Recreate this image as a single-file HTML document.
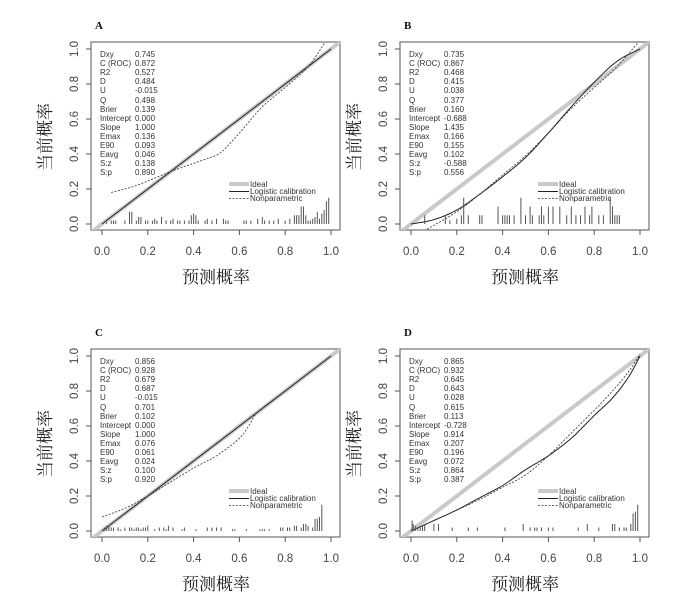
<!DOCTYPE html>
<html><head><meta charset="utf-8"><style>
html,body{margin:0;padding:0;background:#fff;width:698px;height:598px;overflow:hidden}
text{font-family:"Liberation Sans",Arial,sans-serif}
.st{font-size:8px;fill:#333}
.tk{font-size:11.5px;fill:#444}
.cj{font-family:"Noto Serif CJK SC","Noto Sans CJK SC",serif;font-size:17px;fill:#222}
.tt{font-family:"Liberation Serif",serif;font-weight:bold;font-size:11px;fill:#111}
</style></head><body>
<svg id="s" width="698" height="598" xmlns="http://www.w3.org/2000/svg">
<g id="pA" transform="translate(0,0)">
<text class="tt" x="95" y="29">A</text>
<text class="st" x="100" y="57">Dxy</text><text class="st" x="135" y="57">0.745</text>
<text class="st" x="100" y="66">C (ROC)</text><text class="st" x="135" y="66">0.872</text>
<text class="st" x="100" y="75">R2</text><text class="st" x="135" y="75">0.527</text>
<text class="st" x="100" y="84">D</text><text class="st" x="135" y="84">0.484</text>
<text class="st" x="100" y="93">U</text><text class="st" x="135" y="93">-0.015</text>
<text class="st" x="100" y="103">Q</text><text class="st" x="135" y="103">0.498</text>
<text class="st" x="100" y="112">Brier</text><text class="st" x="135" y="112">0.139</text>
<text class="st" x="100" y="121">Intercept</text><text class="st" x="135" y="121">0.000</text>
<text class="st" x="100" y="130">Slope</text><text class="st" x="135" y="130">1.000</text>
<text class="st" x="100" y="139">Emax</text><text class="st" x="135" y="139">0.136</text>
<text class="st" x="100" y="148">E90</text><text class="st" x="135" y="148">0.093</text>
<text class="st" x="100" y="157">Eavg</text><text class="st" x="135" y="157">0.046</text>
<text class="st" x="100" y="166">S:z</text><text class="st" x="135" y="166">0.138</text>
<text class="st" x="100" y="175">S:p</text><text class="st" x="135" y="175">0.890</text>
</g>
<g id="pB" transform="translate(309,0)">
<text class="tt" x="95" y="29">B</text>
<text class="st" x="100" y="57">Dxy</text><text class="st" x="135" y="57">0.735</text>
<text class="st" x="100" y="66">C (ROC)</text><text class="st" x="135" y="66">0.867</text>
<text class="st" x="100" y="75">R2</text><text class="st" x="135" y="75">0.468</text>
<text class="st" x="100" y="84">D</text><text class="st" x="135" y="84">0.415</text>
<text class="st" x="100" y="93">U</text><text class="st" x="135" y="93">0.038</text>
<text class="st" x="100" y="103">Q</text><text class="st" x="135" y="103">0.377</text>
<text class="st" x="100" y="112">Brier</text><text class="st" x="135" y="112">0.160</text>
<text class="st" x="100" y="121">Intercept</text><text class="st" x="135" y="121">-0.688</text>
<text class="st" x="100" y="130">Slope</text><text class="st" x="135" y="130">1.435</text>
<text class="st" x="100" y="139">Emax</text><text class="st" x="135" y="139">0.166</text>
<text class="st" x="100" y="148">E90</text><text class="st" x="135" y="148">0.155</text>
<text class="st" x="100" y="157">Eavg</text><text class="st" x="135" y="157">0.102</text>
<text class="st" x="100" y="166">S:z</text><text class="st" x="135" y="166">-0.588</text>
<text class="st" x="100" y="175">S:p</text><text class="st" x="135" y="175">0.556</text>
</g>
<g id="pC" transform="translate(0,307)">
<text class="tt" x="95" y="29">C</text>
<text class="st" x="100" y="57">Dxy</text><text class="st" x="135" y="57">0.856</text>
<text class="st" x="100" y="66">C (ROC)</text><text class="st" x="135" y="66">0.928</text>
<text class="st" x="100" y="75">R2</text><text class="st" x="135" y="75">0.679</text>
<text class="st" x="100" y="84">D</text><text class="st" x="135" y="84">0.687</text>
<text class="st" x="100" y="93">U</text><text class="st" x="135" y="93">-0.015</text>
<text class="st" x="100" y="103">Q</text><text class="st" x="135" y="103">0.701</text>
<text class="st" x="100" y="112">Brier</text><text class="st" x="135" y="112">0.102</text>
<text class="st" x="100" y="121">Intercept</text><text class="st" x="135" y="121">0.000</text>
<text class="st" x="100" y="130">Slope</text><text class="st" x="135" y="130">1.000</text>
<text class="st" x="100" y="139">Emax</text><text class="st" x="135" y="139">0.076</text>
<text class="st" x="100" y="148">E90</text><text class="st" x="135" y="148">0.061</text>
<text class="st" x="100" y="157">Eavg</text><text class="st" x="135" y="157">0.024</text>
<text class="st" x="100" y="166">S:z</text><text class="st" x="135" y="166">0.100</text>
<text class="st" x="100" y="175">S:p</text><text class="st" x="135" y="175">0.920</text>
</g>
<g id="pD" transform="translate(309,307)">
<text class="tt" x="95" y="29">D</text>
<text class="st" x="100" y="57">Dxy</text><text class="st" x="135" y="57">0.865</text>
<text class="st" x="100" y="66">C (ROC)</text><text class="st" x="135" y="66">0.932</text>
<text class="st" x="100" y="75">R2</text><text class="st" x="135" y="75">0.645</text>
<text class="st" x="100" y="84">D</text><text class="st" x="135" y="84">0.643</text>
<text class="st" x="100" y="93">U</text><text class="st" x="135" y="93">0.028</text>
<text class="st" x="100" y="103">Q</text><text class="st" x="135" y="103">0.615</text>
<text class="st" x="100" y="112">Brier</text><text class="st" x="135" y="112">0.113</text>
<text class="st" x="100" y="121">Intercept</text><text class="st" x="135" y="121">-0.728</text>
<text class="st" x="100" y="130">Slope</text><text class="st" x="135" y="130">0.914</text>
<text class="st" x="100" y="139">Emax</text><text class="st" x="135" y="139">0.207</text>
<text class="st" x="100" y="148">E90</text><text class="st" x="135" y="148">0.196</text>
<text class="st" x="100" y="157">Eavg</text><text class="st" x="135" y="157">0.072</text>
<text class="st" x="100" y="166">S:z</text><text class="st" x="135" y="166">0.864</text>
<text class="st" x="100" y="175">S:p</text><text class="st" x="135" y="175">0.387</text>
</g>
</svg>
<script>
var NS="http://www.w3.org/2000/svg";
function X(v){return 102+229*v}function Y(v){return 224-175*v}
function add(g,t,a,txt){var e=document.createElementNS(NS,t);for(var k in a)e.setAttribute(k,a[k]);if(txt)e.textContent=txt;g.appendChild(e);return e}
function path(pts){var d="";for(var i=0;i<pts.length;i++){d+=(i?"L":"M")+X(pts[i][0]).toFixed(1)+" "+Y(pts[i][1]).toFixed(1)}return d}
function smooth(pts){var o=[];for(var i=0;i<pts.length-1;i++){var p0=pts[Math.max(0,i-1)],p1=pts[i],p2=pts[i+1],p3=pts[Math.min(pts.length-1,i+2)];for(var t=0;t<1;t+=0.1){var t2=t*t,t3=t2*t;var f=function(a,b,c,d){return 0.5*((2*b)+(-a+c)*t+(2*a-5*b+4*c-d)*t2+(-a+3*b-3*c+d)*t3)};o.push([f(p0[0],p1[0],p2[0],p3[0]),f(p0[1],p1[1],p2[1],p3[1])])}}o.push(pts[pts.length-1]);return o}
var cfg={
pA:{lg:[[0,0],[1,1]],np:[[0.04,0.18],[0.15,0.22],[0.3,0.3],[0.45,0.37],[0.52,0.41],[0.6,0.52],[0.7,0.67],[0.8,0.78],[0.9,0.9],[0.98,1.05]],
rug:[[0.02,.01],[0.04,.02],[0.05,.02],[0.06,.02],[0.1,.02],[0.12,.07],[0.13,.07],[0.15,.02],[0.16,.04],[0.17,.04],[0.19,.02],[0.2,.02],[0.22,.02],[0.23,.03],[0.24,.02],[0.26,.04],[0.28,.02],[0.3,.02],[0.31,.03],[0.33,.02],[0.34,.02],[0.36,.02],[0.38,.02],[0.39,.05],[0.4,.06],[0.41,.05],[0.42,.02],[0.45,.02],[0.46,.03],[0.48,.02],[0.5,.03],[0.53,.03],[0.54,.02],[0.55,.02],[0.62,.02],[0.63,.02],[0.65,.02],[0.68,.03],[0.7,.04],[0.71,.02],[0.73,.02],[0.75,.02],[0.77,.03],[0.8,.02],[0.82,.03],[0.84,.05],[0.85,.05],[0.86,.05],[0.87,.1],[0.88,.1],[0.89,.05],[0.9,.02],[0.91,.02],[0.92,.03],[0.93,.04],[0.94,.07],[0.95,.03],[0.96,.06],[0.97,.08],[0.98,.13],[0.99,.15]]},
pB:{lg:[[0,0],[0.1,0.025],[0.2,0.08],[0.3,0.17],[0.4,0.27],[0.5,0.38],[0.6,0.52],[0.7,0.67],[0.8,0.81],[0.9,0.93],[1,1.0]],np:[[0.07,-0.03],[0.2,0.07],[0.3,0.17],[0.4,0.28],[0.5,0.39],[0.6,0.52],[0.7,0.66],[0.8,0.78],[0.9,0.9],[1,1.05]],
rug:[[0.06,.05],[0.15,.05],[0.17,.02],[0.2,.03],[0.22,.05],[0.23,.15],[0.25,.05],[0.3,.05],[0.31,.05],[0.38,.1],[0.4,.05],[0.41,.05],[0.42,.05],[0.43,.05],[0.45,.05],[0.48,.15],[0.5,.05],[0.52,.1],[0.53,.05],[0.56,.05],[0.57,.1],[0.58,.05],[0.6,.1],[0.62,.1],[0.65,.1],[0.68,.05],[0.7,.1],[0.72,.05],[0.74,.05],[0.76,.1],[0.78,.05],[0.79,.1],[0.82,.05],[0.84,.05],[0.87,.15],[0.88,.1],[0.89,.05],[0.9,.05],[0.91,.05]]},
pC:{lg:[[0,0],[1,1]],np:[[0.0,0.08],[0.1,0.13],[0.2,0.2],[0.3,0.28],[0.4,0.36],[0.5,0.43],[0.6,0.53],[0.65,0.62],[0.68,0.68],[0.8,0.8],[0.9,0.9],[1,1]],
rug:[[0.01,.02],[0.02,.03],[0.03,.03],[0.04,.02],[0.05,.02],[0.07,.02],[0.08,.01],[0.1,.02],[0.12,.02],[0.13,.02],[0.14,.01],[0.15,.02],[0.16,.02],[0.17,.01],[0.18,.02],[0.19,.02],[0.2,.03],[0.23,.01],[0.25,.02],[0.27,.02],[0.28,.01],[0.29,.03],[0.31,.02],[0.35,.01],[0.36,.02],[0.41,.01],[0.46,.02],[0.48,.02],[0.5,.02],[0.52,.02],[0.57,.01],[0.58,.01],[0.63,.01],[0.69,.01],[0.7,.01],[0.71,.01],[0.73,.01],[0.78,.02],[0.79,.02],[0.81,.02],[0.82,.02],[0.84,.03],[0.85,.03],[0.87,.02],[0.88,.04],[0.89,.04],[0.9,.03],[0.92,.02],[0.93,.07],[0.94,.07],[0.95,.08],[0.96,.15]]},
pD:{lg:[[0,0],[0.1,0.06],[0.2,0.12],[0.3,0.19],[0.4,0.26],[0.5,0.35],[0.6,0.43],[0.7,0.53],[0.8,0.66],[0.88,0.76],[0.95,0.88],[1,1.0]],np:[[0,0],[0.1,0.06],[0.2,0.12],[0.3,0.18],[0.4,0.25],[0.5,0.32],[0.6,0.43],[0.7,0.56],[0.8,0.69],[0.88,0.8],[0.95,0.91],[1,1.01]],
rug:[[0.005,.06],[0.01,.04],[0.02,.03],[0.03,.02],[0.04,.02],[0.05,.03],[0.06,.04],[0.1,.04],[0.12,.04],[0.18,.02],[0.25,.02],[0.29,.02],[0.41,.02],[0.49,.04],[0.52,.02],[0.54,.02],[0.55,.02],[0.57,.02],[0.6,.02],[0.62,.02],[0.73,.02],[0.77,.04],[0.82,.02],[0.88,.04],[0.89,.04],[0.91,.02],[0.93,.02],[0.94,.02],[0.96,.04],[0.97,.1],[0.98,.11],[0.99,.15]]}};
var xt=["0.0","0.2","0.4","0.6","0.8","1.0"];
for(var id in cfg){var g=document.getElementById(id),c=cfg[id];
add(g,"rect",{x:91,y:42,width:249,height:188,fill:"none",stroke:"#555","stroke-width":1});
for(var i=0;i<6;i++){var v=i/5;
add(g,"line",{x1:X(v),x2:X(v),y1:230,y2:235,stroke:"#555"});
add(g,"text",{x:X(v),y:255,"text-anchor":"middle","class":"tk"},xt[i]);
add(g,"line",{x1:86,x2:91,y1:Y(v),y2:Y(v),stroke:"#555"});
add(g,"text",{x:0,y:0,"text-anchor":"middle","class":"tk",transform:"translate(78,"+Y(v)+") rotate(-90)"},xt[i]);}
add(g,"text",{x:216,y:283,"text-anchor":"middle","class":"cj"},"预测概率");
add(g,"text",{x:0,y:0,"text-anchor":"middle","class":"cj",transform:"translate(51,137) rotate(-90)"},"当前概率");
var cp=add(g,"clipPath",{id:"c"+id});add(cp,"rect",{x:91,y:42,width:249,height:188});
var pg=add(g,"g",{"clip-path":"url(#c"+id+")"});
add(pg,"line",{x1:X(-0.05),y1:Y(-0.05),x2:X(1.06),y2:Y(1.06),stroke:"#c9c9c9","stroke-width":4});
add(pg,"path",{d:path(c.lg.length>2?smooth(c.lg):c.lg),fill:"none",stroke:"#222","stroke-width":1});
add(pg,"path",{d:path(smooth(c.np)),fill:"none",stroke:"#333","stroke-width":0.8,"stroke-dasharray":"2,1.5"});
var d="";c.rug.forEach(function(r){d+="M"+X(r[0]).toFixed(1)+" "+Y(0)+"V"+Y(r[1]).toFixed(1)});
add(pg,"path",{d:d,stroke:"#555","stroke-width":1,fill:"none"});
add(g,"line",{x1:229,x2:249,y1:184,y2:184,stroke:"#c9c9c9","stroke-width":4});
add(g,"line",{x1:229,x2:249,y1:191.5,y2:191.5,stroke:"#222","stroke-width":1});
add(g,"line",{x1:229,x2:249,y1:198.5,y2:198.5,stroke:"#333","stroke-width":0.8,"stroke-dasharray":"2,1.5"});
add(g,"text",{x:250,y:187,"class":"st"},"Ideal");
add(g,"text",{x:250,y:194,"class":"st"},"Logistic calibration");
add(g,"text",{x:250,y:201,"class":"st"},"Nonparametric");
}
</script>
</body></html>
